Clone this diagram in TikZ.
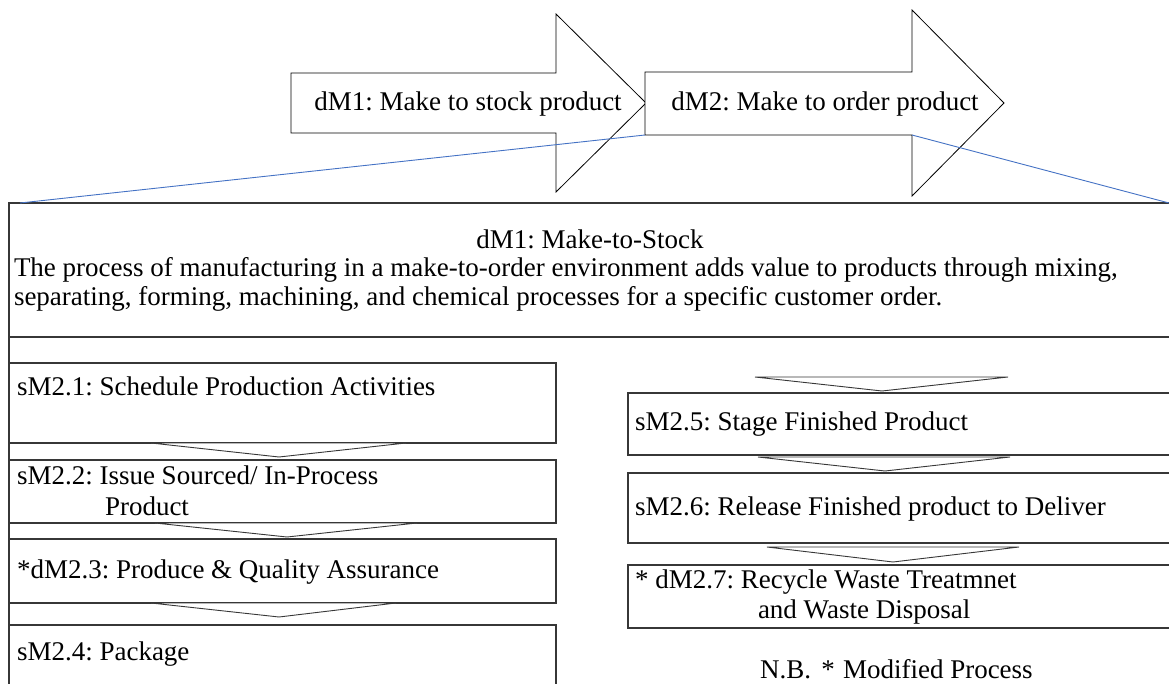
\documentclass[tikz,border=0pt]{standalone}
\usepackage{fontspec}
\setmainfont{Liberation Serif}
\frenchspacing
\definecolor{zoomblue}{RGB}{68,114,196}
\definecolor{boxline}{RGB}{55,55,55}
\begin{document}
\begin{tikzpicture}[x=1pt,y=-1pt,
  every node/.style={font=\fontsize{27}{31}\selectfont, inner sep=0pt, outer sep=0pt},
  bigarrow/.style={draw=black, line width=0.8pt, fill=white},
  procbox/.style={draw=boxline, line width=1.1pt},
  chev/.style={draw=boxline, line width=0.9pt, fill=white},
  zoomline/.style={draw=zoomblue, line width=0.9pt},
  lbl/.style={anchor=base west}]
\useasboundingbox (0,0) rectangle (1169,684);
\clip (0,0) rectangle (1169,684);

% ---- top level process arrows ----
\draw[bigarrow] (291,73) -- (556,73) -- (556,14) -- (646,103) -- (556,192) -- (556,133) -- (291,133) -- cycle;
\draw[bigarrow] (645,72) -- (912,72) -- (912,10) -- (1004,103) -- (912,196) -- (912,135) -- (645,135) -- cycle;
\coordinate (a2sw) at (645,135);
\coordinate (a2se) at (912,135);
\node[anchor=base] (dm1) at (468,111) {dM1: Make to stock product};
\node[anchor=base] (dm2) at (825,111) {dM2: Make to order product};

% ---- detail frame ----
\coordinate (fnw) at (20,203);
\coordinate (fne) at (1169,203);
\draw[procbox] (9,203) rectangle (1180,700);
\draw[boxline, line width=2pt] (9,203.5) -- (1180,203.5);
\draw[procbox] (9,337) -- (1180,337);
\node[anchor=base] (hdr) at (590,249) {dM1: Make-to-Stock};
\node[lbl] (p1) at (14,277) {The process of manufacturing in a make-to-order environment adds value to products through mixing,};
\node[lbl] (p2) at (14,306) {separating, forming, machining, and chemical processes for a specific customer order.};

% ---- left column ----
\draw[procbox] (9,363) rectangle (556,443);
\draw[procbox] (9,460) rectangle (556,523);
\draw[procbox] (9,539) rectangle (556,603);
\draw[procbox] (9,625) rectangle (556,700);
\draw[chev] (151,443) -- (406,443) -- (279,457) -- cycle;
\draw[chev] (155,523) -- (417,523) -- (287,537) -- cycle;
\draw[chev] (151,603) -- (396,603) -- (279,617) -- cycle;
\node[lbl] (s21) at (17,395) {sM2.1: Schedule Production Activities};
\node[lbl] (s22) at (17,484) {sM2.2: Issue Sourced/ In-Process};
\node[lbl] (s22b) at (105,515) {Product};
\node[lbl] (d23) at (17,578) {*dM2.3: Produce \& Quality Assurance};
\node[lbl] (s24) at (17,660) {sM2.4: Package};

% ---- right column ----
\draw[procbox] (628,393) rectangle (1180,455);
\draw[procbox] (628,473) rectangle (1180,543);
\draw[procbox] (628,565) rectangle (1180,628);
\draw[chev] (755,377) -- (1008,377) -- (882,391) -- cycle;
\draw[chev] (758,457) -- (1010,457) -- (885,471) -- cycle;
\draw[chev] (767,547) -- (1019,547) -- (893,562) -- cycle;
\node[lbl] (s25) at (635,430) {sM2.5: Stage Finished Product};
\node[lbl] (s26) at (635,515) {sM2.6: Release Finished product to Deliver};
\node[lbl] (d27) at (635,588) {* dM2.7: Recycle Waste Treatmnet};
\node[lbl] (d27b) at (758,618) {and Waste Disposal};

% ---- legend ----
\node[lbl] (nb) at (760,678) {N.B.};
\node[anchor=base] (nbstar) at (828,678) {*};
\node[lbl] (nbtxt) at (843,678) {Modified Process};

% ---- zoom lines from dM2 to the detail frame ----
\draw[zoomline] (a2sw) -- (fnw);
\draw[zoomline] (a2se) -- (fne);
\end{tikzpicture}
\end{document}
